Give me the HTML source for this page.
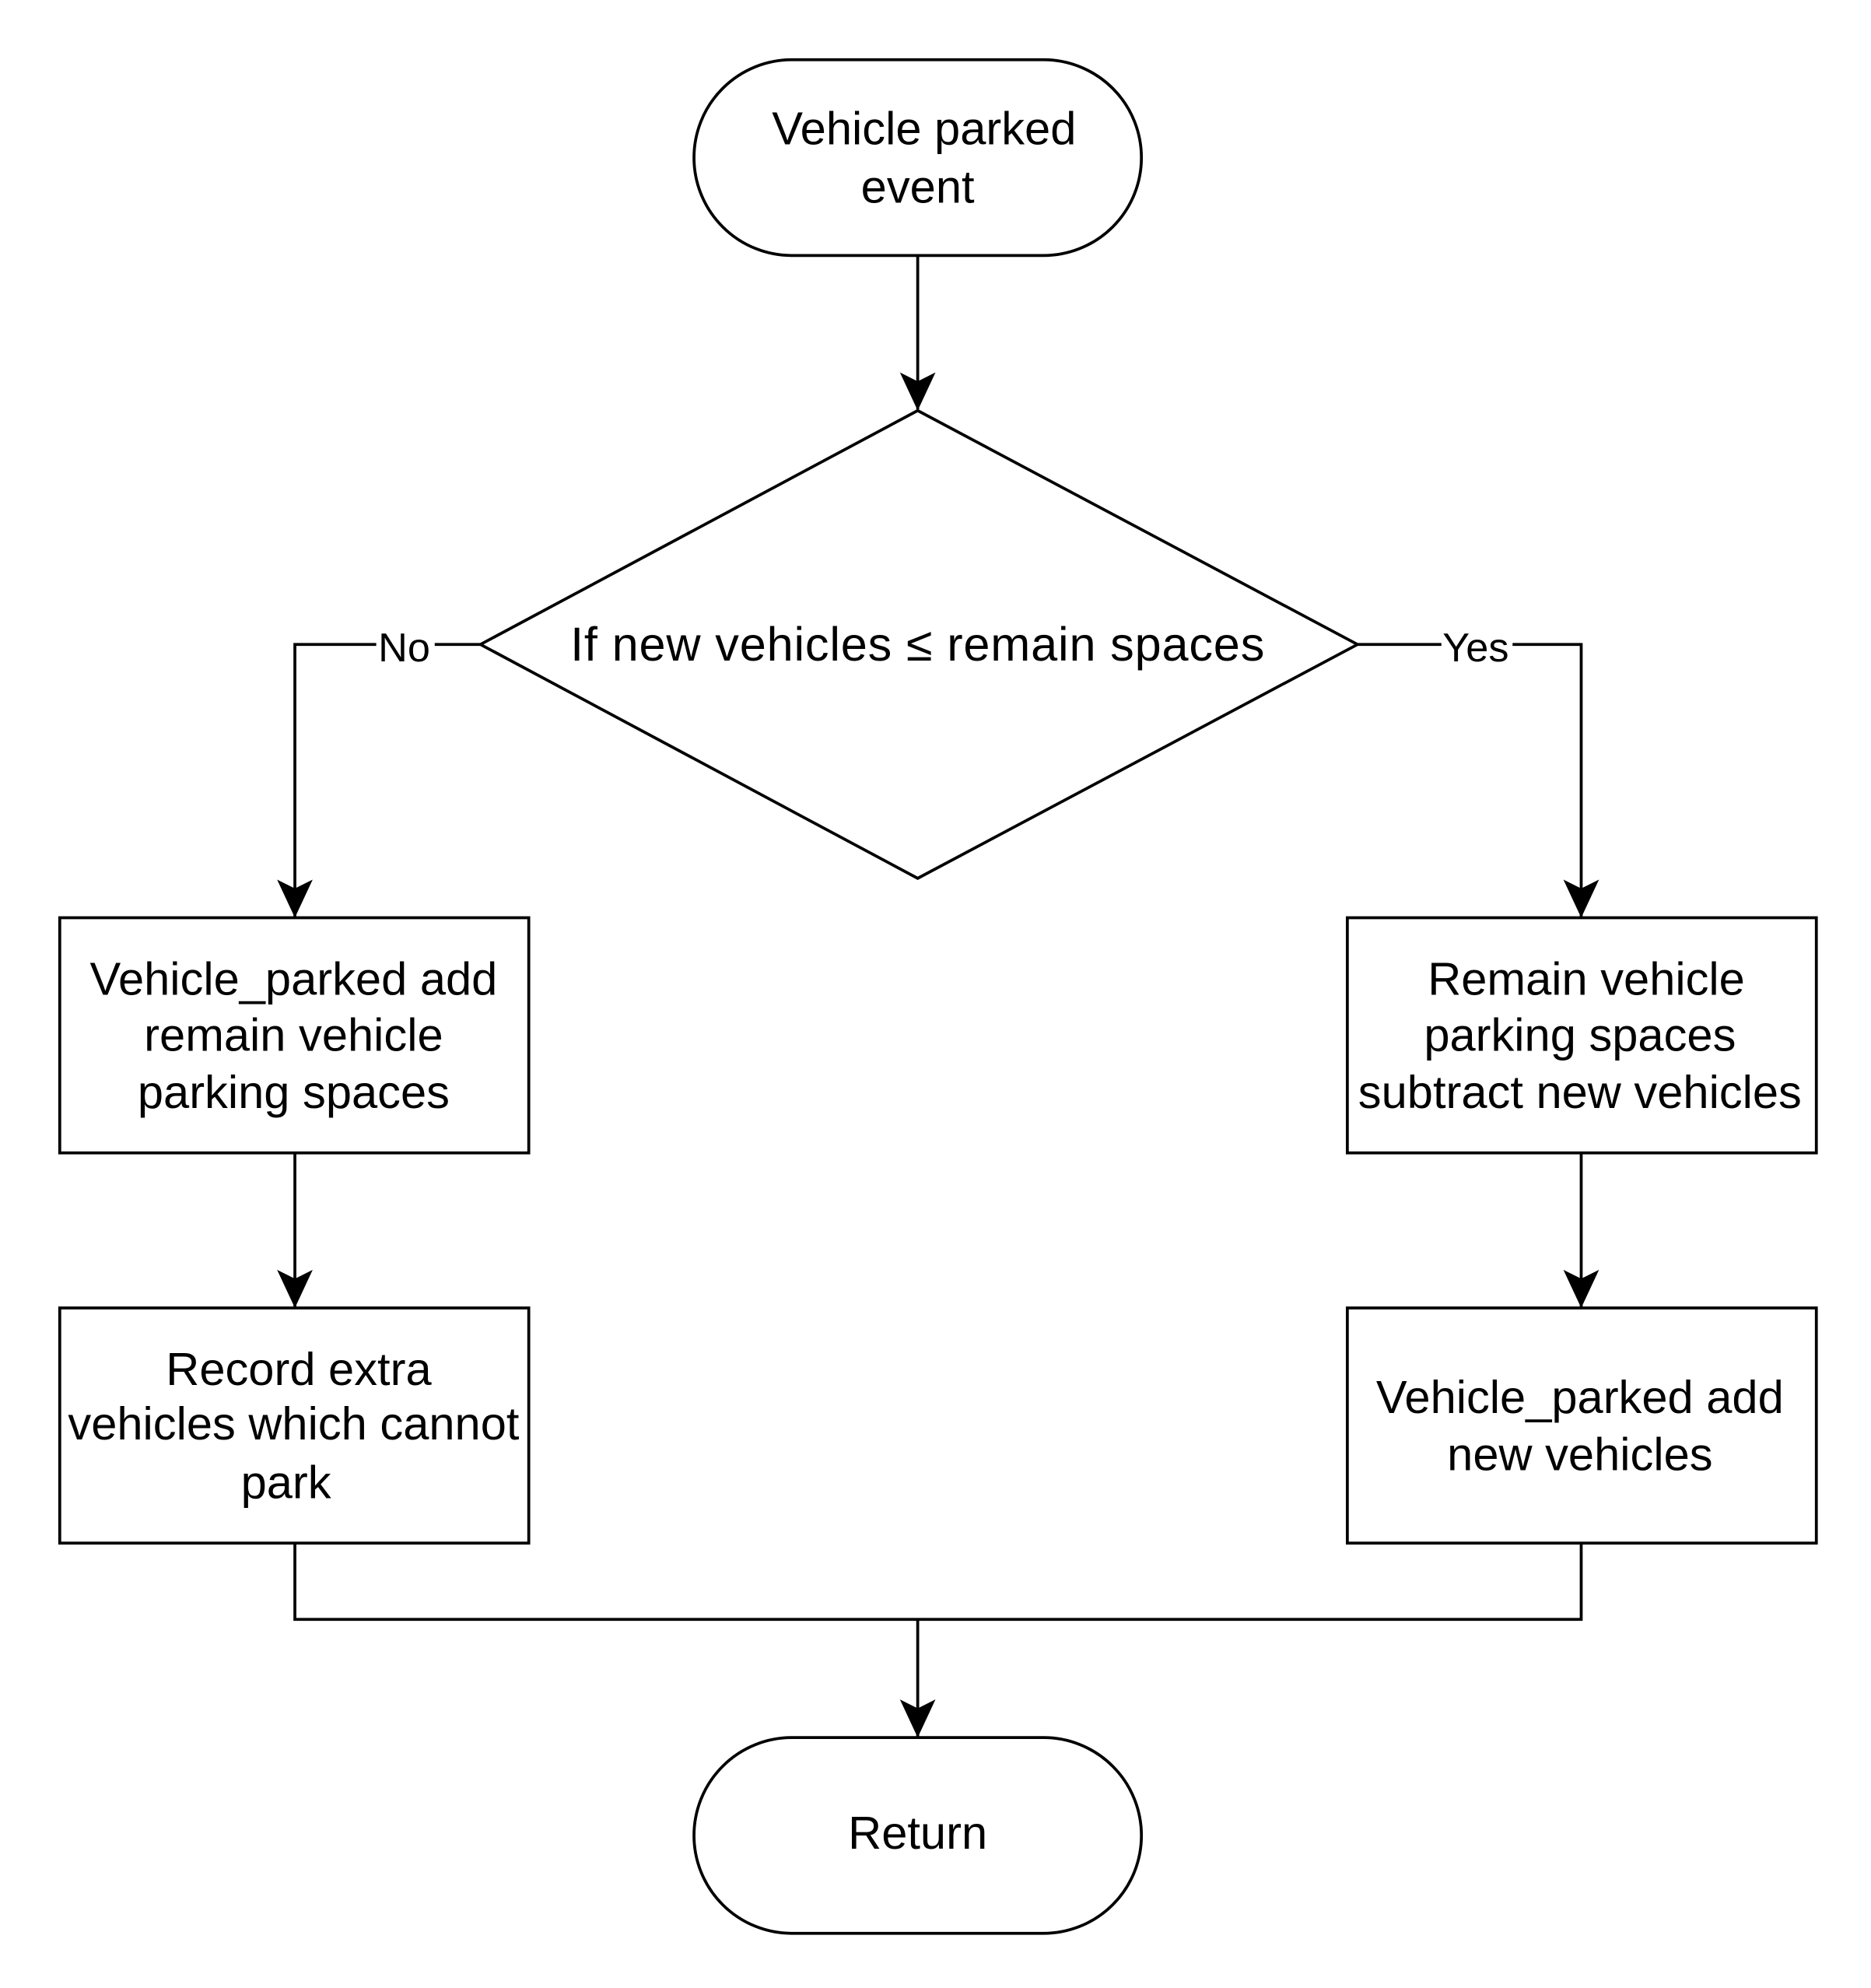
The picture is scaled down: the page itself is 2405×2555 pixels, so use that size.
<!DOCTYPE html>
<html><head><meta charset="utf-8"><style>html,body{margin:0;padding:0;background:#fff}svg{display:block}</style></head>
<body>
<svg width="2405" height="2555" viewBox="0 0 1472 1564" preserveAspectRatio="none" xmlns="http://www.w3.org/2000/svg">
<defs>
<marker id="b" viewBox="0 0 30 30" refX="29" refY="15" markerWidth="30" markerHeight="30" markerUnits="userSpaceOnUse" orient="auto"><path d="M0,1 L30,15 L0,29 L7,15 Z" fill="#000"/></marker></defs>
<g fill="none" stroke="#000" stroke-width="2.3">
<rect x="546" y="47" width="352" height="154" rx="77"/>
<rect x="546" y="1367" width="352" height="154" rx="77"/>
<polygon points="722,323 1068,507 722,691 378,507"/>
<rect x="47" y="722" width="369" height="185"/>
<rect x="47" y="1029" width="369" height="185"/>
<rect x="1060" y="722" width="369" height="185"/>
<rect x="1060" y="1029" width="369" height="185"/>
<line x1="722" y1="201" x2="722" y2="322" marker-end="url(#b)"/>
<polyline points="378,507 232,507 232,721" marker-end="url(#b)"/>
<polyline points="1068,507 1244,507 1244,721" marker-end="url(#b)"/>
<line x1="232" y1="907" x2="232" y2="1028" marker-end="url(#b)"/>
<line x1="1244" y1="907" x2="1244" y2="1028" marker-end="url(#b)"/>
<polyline points="232,1214 232,1274 1244,1274 1244,1214"/>
<line x1="722" y1="1274" x2="722" y2="1366" marker-end="url(#b)"/>
</g>
<rect x="296" y="493" width="46" height="32" fill="#fff"/>
<rect x="1134" y="493" width="56" height="32" fill="#fff"/>
<g font-family="Liberation Sans, DejaVu Sans, sans-serif" font-size="36.5" text-anchor="middle" dominant-baseline="central" fill="#000">
<text x="727" y="101">Vehicle parked</text>
<text x="722" y="147">event</text>
<text x="722" y="1442">Return</text>
<text x="722" y="507" font-size="37.5" letter-spacing="0.5">If new vehicles ≤ remain spaces</text>
<text x="318" y="510" font-size="32">No</text>
<text x="1161" y="510" font-size="32">Yes</text>
<text x="231" y="770">Vehicle_parked add</text>
<text x="231" y="814">remain vehicle</text>
<text x="231" y="859">parking spaces</text>
<text x="235" y="1077">Record extra</text>
<text x="231" y="1120">vehicles which cannot</text>
<text x="225" y="1166">park</text>
<text x="1248" y="770">Remain vehicle</text>
<text x="1243" y="814">parking spaces</text>
<text x="1243" y="859">subtract new vehicles</text>
<text x="1243" y="1099">Vehicle_parked add</text>
<text x="1243" y="1144">new vehicles</text>
</g>
</svg>
</body></html>
